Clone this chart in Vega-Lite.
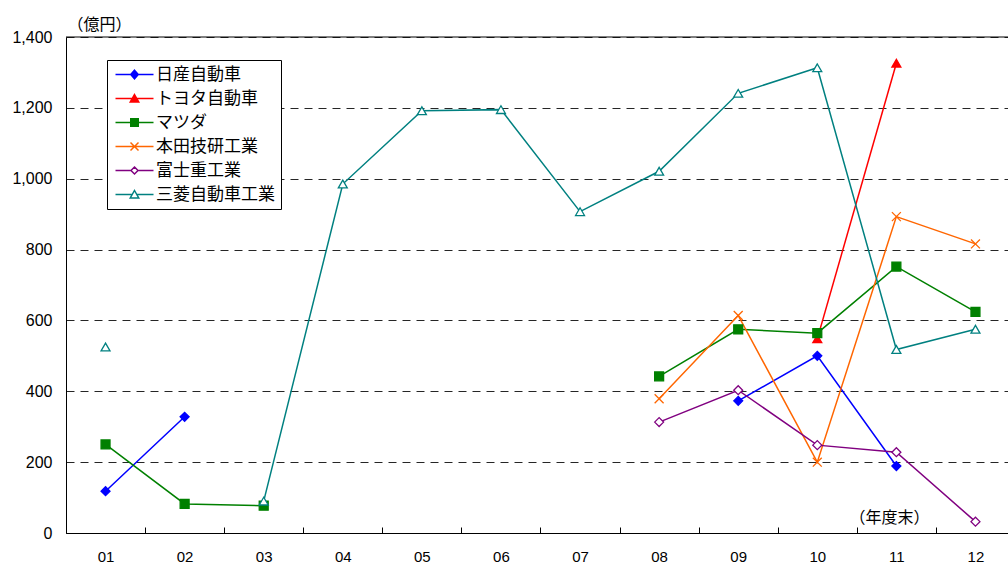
{
  "$schema": "https://vega.github.io/schema/vega-lite/v6.json",
  "width": 942,
  "height": 496,
  "autosize": {"type": "none"},
  "padding": {"left": 66, "top": 37, "right": 0, "bottom": 32},
  "background": "white",
  "config": {"view": {"stroke": null}, "font": "Liberation Sans"},
  "data": {"values": [
    {"t":"01","c":"日産自動車","v":118},{"t":"02","c":"日産自動車","v":328},{"t":"03","c":"日産自動車","v":null},{"t":"04","c":"日産自動車","v":null},{"t":"05","c":"日産自動車","v":null},{"t":"06","c":"日産自動車","v":null},{"t":"07","c":"日産自動車","v":null},{"t":"08","c":"日産自動車","v":null},{"t":"09","c":"日産自動車","v":373},{"t":"10","c":"日産自動車","v":500},{"t":"11","c":"日産自動車","v":189},{"t":"12","c":"日産自動車","v":null},
    {"t":"01","c":"トヨタ自動車","v":null},{"t":"02","c":"トヨタ自動車","v":null},{"t":"03","c":"トヨタ自動車","v":null},{"t":"04","c":"トヨタ自動車","v":null},{"t":"05","c":"トヨタ自動車","v":null},{"t":"06","c":"トヨタ自動車","v":null},{"t":"07","c":"トヨタ自動車","v":null},{"t":"08","c":"トヨタ自動車","v":null},{"t":"09","c":"トヨタ自動車","v":null},{"t":"10","c":"トヨタ自動車","v":548},{"t":"11","c":"トヨタ自動車","v":1326},{"t":"12","c":"トヨタ自動車","v":null},
    {"t":"01","c":"マツダ","v":250},{"t":"02","c":"マツダ","v":82},{"t":"03","c":"マツダ","v":77},{"t":"04","c":"マツダ","v":null},{"t":"05","c":"マツダ","v":null},{"t":"06","c":"マツダ","v":null},{"t":"07","c":"マツダ","v":null},{"t":"08","c":"マツダ","v":442},{"t":"09","c":"マツダ","v":575},{"t":"10","c":"マツダ","v":564},{"t":"11","c":"マツダ","v":752},{"t":"12","c":"マツダ","v":624},
    {"t":"01","c":"本田技研工業","v":null},{"t":"02","c":"本田技研工業","v":null},{"t":"03","c":"本田技研工業","v":null},{"t":"04","c":"本田技研工業","v":null},{"t":"05","c":"本田技研工業","v":null},{"t":"06","c":"本田技研工業","v":null},{"t":"07","c":"本田技研工業","v":null},{"t":"08","c":"本田技研工業","v":379},{"t":"09","c":"本田技研工業","v":614},{"t":"10","c":"本田技研工業","v":200},{"t":"11","c":"本田技研工業","v":893},{"t":"12","c":"本田技研工業","v":816},
    {"t":"01","c":"富士重工業","v":null},{"t":"02","c":"富士重工業","v":null},{"t":"03","c":"富士重工業","v":null},{"t":"04","c":"富士重工業","v":null},{"t":"05","c":"富士重工業","v":null},{"t":"06","c":"富士重工業","v":null},{"t":"07","c":"富士重工業","v":null},{"t":"08","c":"富士重工業","v":313},{"t":"09","c":"富士重工業","v":403},{"t":"10","c":"富士重工業","v":248},{"t":"11","c":"富士重工業","v":228},{"t":"12","c":"富士重工業","v":32},
    {"t":"01","c":"三菱自動車工業","v":525},{"t":"02","c":"三菱自動車工業","v":null},{"t":"03","c":"三菱自動車工業","v":90},{"t":"04","c":"三菱自動車工業","v":985},{"t":"05","c":"三菱自動車工業","v":1192},{"t":"06","c":"三菱自動車工業","v":1195},{"t":"07","c":"三菱自動車工業","v":907},{"t":"08","c":"三菱自動車工業","v":1021},{"t":"09","c":"三菱自動車工業","v":1241},{"t":"10","c":"三菱自動車工業","v":1313},{"t":"11","c":"三菱自動車工業","v":518},{"t":"12","c":"三菱自動車工業","v":575}
  ]},
  "layer": [
    {
      "data": {"values": [{}]},
      "mark": {"type": "rule", "color": "black", "strokeWidth": 1},
      "encoding": {"y": {"datum": 1400, "type": "quantitative"}}
    },
    {
      "mark": {"type": "line", "strokeWidth": 1.5, "invalid": "break-paths-filter-domains"},
      "encoding": {
        "x": {"field": "t", "type": "ordinal",
          "scale": {"domain": ["01","02","03","04","05","06","07","08","09","10","11","12"], "range": [0, 949], "paddingInner": 0, "paddingOuter": 0},
          "axis": {"title": "（年度末）", "titleFont": "Noto Sans CJK JP", "titleFontSize": 16, "titleFontWeight": "normal", "titleColor": "black", "titleX": 823, "titleY": -16, "titleAlign": "center", "titleBaseline": "middle", "titleAnchor": null,
            "labelAngle": 0, "labelFontSize": 15, "labelColor": "black", "labelPadding": 22, "tickBand": "extent", "tickSize": -6, "tickColor": "black", "domainColor": "black", "grid": false}},
        "y": {"field": "v", "type": "quantitative",
          "scale": {"domain": [0, 1400], "nice": false},
          "axis": {"title": "（億円）", "titleFont": "Noto Sans CJK JP", "titleFontSize": 16, "titleFontWeight": "normal", "titleColor": "black", "titleAngle": 0, "titleX": 33, "titleY": -13, "titleAlign": "center", "titleBaseline": "middle",
            "values": [0,200,400,600,800,1000,1200,1400], "format": ",d", "grid": true, "gridDash": [8, 6], "gridColor": "black", "gridOpacity": 0.85, "ticks": false, "labelPadding": 14, "labelFontSize": 16, "labelColor": "black", "domainColor": "black"}},
        "stroke": {"field": "c", "type": "nominal", "legend": null,
          "scale": {"domain": ["日産自動車","トヨタ自動車","マツダ","本田技研工業","富士重工業","三菱自動車工業"], "range": ["#0000FF","#FF0000","#008000","#FF6600","#800080","#008080"]}}
      }
    },
    {
      "mark": {"type": "point", "filled": true, "size": 80, "strokeWidth": 1.3, "opacity": 1},
      "encoding": {
        "x": {"field": "t", "type": "ordinal"},
        "y": {"field": "v", "type": "quantitative"},
        "stroke": {"field": "c", "type": "nominal", "legend": null,
          "scale": {"domain": ["日産自動車","トヨタ自動車","マツダ","本田技研工業","富士重工業","三菱自動車工業"], "range": ["#0000FF","#FF0000","#008000","#FF6600","#800080","#008080"]}},
        "fill": {"field": "c", "type": "nominal", "legend": null,
          "scale": {"domain": ["日産自動車","トヨタ自動車","マツダ","本田技研工業","富士重工業","三菱自動車工業"], "range": ["#0000FF","#FF0000","#008000","#FF6600","#FFFFFF","#FFFFFF"]}},
        "shape": {"field": "c", "type": "nominal", "legend": null,
          "scale": {"domain": ["日産自動車","トヨタ自動車","マツダ","本田技研工業","富士重工業","三菱自動車工業"], "range": ["diamond","triangle-up","square","M-1,-1L1,1M1,-1L-1,1","diamond","triangle-up"]}}
      }
    },
    {
      "transform": [{"filter": "false"}],
      "mark": {"type": "point", "filled": true, "size": 100, "strokeWidth": 1.5, "opacity": 1},
      "encoding": {
        "x": {"field": "t", "type": "ordinal"},
        "y": {"field": "v", "type": "quantitative"},
        "stroke": {"field": "c", "type": "nominal", "legend": {"title": null},
          "scale": {"domain": ["日産自動車","トヨタ自動車","マツダ","本田技研工業","富士重工業","三菱自動車工業"], "range": ["#0000FF","#FF0000","#008000","#FF6600","#800080","#008080"]}},
        "fill": {"field": "c", "type": "nominal", "legend": {"title": null},
          "scale": {"domain": ["日産自動車","トヨタ自動車","マツダ","本田技研工業","富士重工業","三菱自動車工業"], "range": ["#0000FF","#FF0000","#008000","#FF6600","#FFFFFF","#FFFFFF"]}},
        "shape": {"field": "c", "type": "nominal",
          "scale": {"domain": ["日産自動車","トヨタ自動車","マツダ","本田技研工業","富士重工業","三菱自動車工業"], "range": [
            "M-3.8,0L3.8,0M0,-0.85L0.75,0L0,0.85L-0.75,0Z",
            "M-3.8,0L3.8,0M0,-0.8L0.85,0.7L-0.85,0.7Z",
            "M-3.8,0L3.8,0M-0.75,-0.75L0.75,-0.75L0.75,0.75L-0.75,0.75Z",
            "M-3.8,0L3.8,0M-0.8,-0.8L0.8,0.8M0.8,-0.8L-0.8,0.8",
            "M-3.8,0L-0.7,0M0.7,0L3.8,0M0,-0.7L0.7,0L0,0.7L-0.7,0Z",
            "M-3.8,0L-0.45,0M0.45,0L3.8,0M0,-0.8L0.85,0.7L-0.85,0.7Z"]},
          "legend": {"title": null, "orient": "none", "legendX": 41, "legendY": 23, "padding": 6, "strokeColor": "black", "fillColor": "white",
            "labelFont": "Noto Sans CJK JP", "labelFontSize": 17, "labelColor": "black", "symbolSize": 100, "symbolOffset": 13, "labelOffset": 13, "rowPadding": 6, "symbolStrokeWidth": 1.5}}
      }
    }
  ],
  "resolve": {"scale": {"stroke": "independent", "fill": "independent", "shape": "independent"}}
}
